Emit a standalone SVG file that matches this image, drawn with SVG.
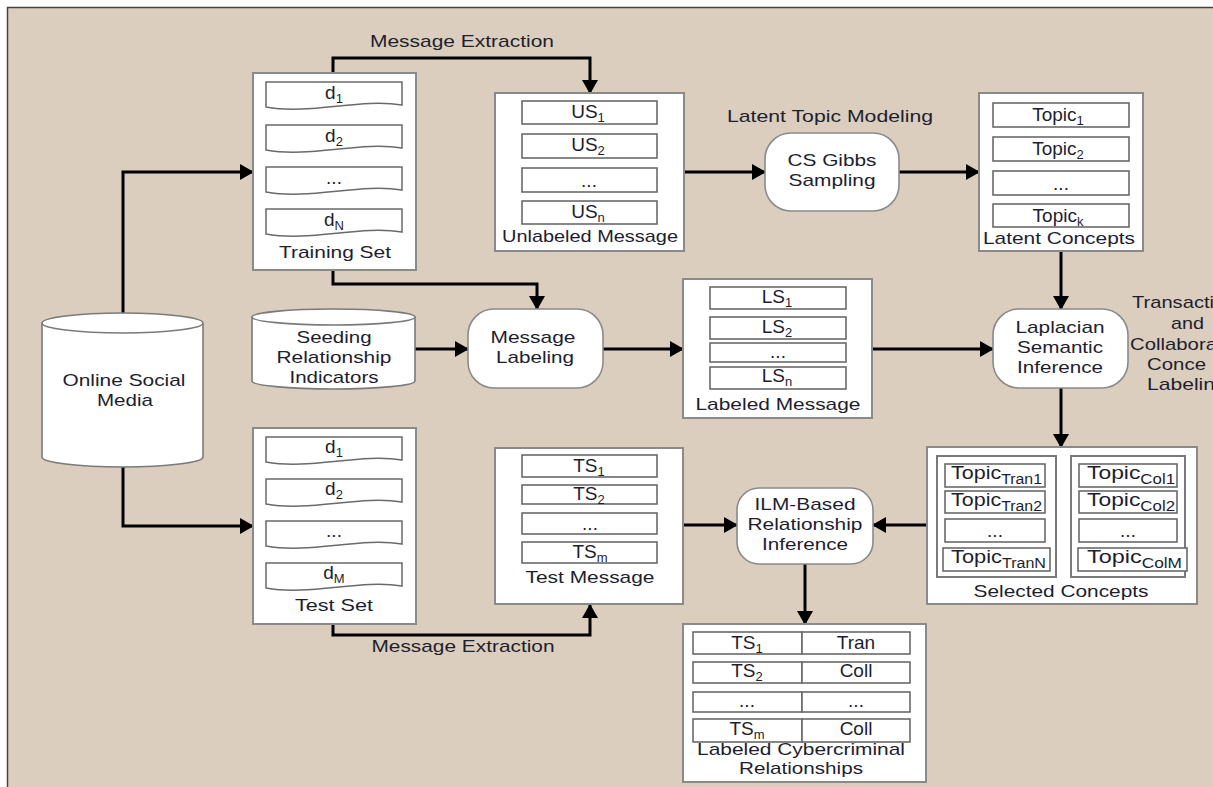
<svg xmlns="http://www.w3.org/2000/svg" xmlns:xlink="http://www.w3.org/1999/xlink" width="1213" height="787" viewBox="0 0 1213 787">
<style>
  text { font-family: "Liberation Sans", Arial, sans-serif; fill: #1e1e2e; font-size: 17px; text-anchor: middle; }
  .item { font-size: 19px; }
  .sub { font-size: 13px; }
  .sub2 { font-size: 14px; }
  .start { text-anchor: start; }
  .box { fill: #ffffff; stroke: #8a8a8a; stroke-width: 2; }
  .cell { fill: #ffffff; stroke: #6a6a6a; stroke-width: 1.6; }
  .round { fill: #ffffff; stroke: #8a8a8a; stroke-width: 1.6; }
  .doc { fill: #ffffff; stroke: #6a6a6a; stroke-width: 1.5; }
  .conn { fill: none; stroke: #000000; stroke-width: 3; }
</style>
<defs>
  <marker id="arr" markerUnits="userSpaceOnUse" markerWidth="14" markerHeight="16" refX="13" refY="8" orient="auto">
    <path d="M0,0 L14,8 L0,16 Z" fill="#000000"/>
  </marker>
  <path id="docshape" d="M0,0 H136 V23 C94,16 44,33 0,25 Z"/>
</defs>

<g id="background">
  <rect x="0" y="0" width="1213" height="787" fill="#ffffff"/>
  <rect x="7" y="7" width="1206" height="780" fill="#dbcebe"/>
  <path d="M7.5,787 V7.5 H1213" fill="none" stroke="#444444" stroke-width="1.5"/>
</g>

<g id="connectors">
  <path class="conn" d="M123,323 V172 H253" marker-end="url(#arr)"/>
  <path class="conn" d="M123,467 V526 H253" marker-end="url(#arr)"/>
  <path class="conn" d="M333,73 V58 H590 V93" marker-end="url(#arr)"/>
  <path class="conn" d="M333,270 V284 H537 V309" marker-end="url(#arr)"/>
  <path class="conn" d="M415,349 H468" marker-end="url(#arr)"/>
  <path class="conn" d="M603,349 H683" marker-end="url(#arr)"/>
  <path class="conn" d="M684,172 H765" marker-end="url(#arr)"/>
  <path class="conn" d="M899,172 H979" marker-end="url(#arr)"/>
  <path class="conn" d="M1061,251 V309" marker-end="url(#arr)"/>
  <path class="conn" d="M872,349 H993" marker-end="url(#arr)"/>
  <path class="conn" d="M1061,388 V447" marker-end="url(#arr)"/>
  <path class="conn" d="M927,525 H873" marker-end="url(#arr)"/>
  <path class="conn" d="M683,525 H737" marker-end="url(#arr)"/>
  <path class="conn" d="M805,564 V624" marker-end="url(#arr)"/>
  <path class="conn" d="M333,624 V635 H590 V605" marker-end="url(#arr)"/>
  <text x="462" y="47" textLength="184" lengthAdjust="spacingAndGlyphs">Message Extraction</text>
  <text x="463" y="652" textLength="183" lengthAdjust="spacingAndGlyphs">Message Extraction</text>
  <text x="830" y="122" textLength="206" lengthAdjust="spacingAndGlyphs">Latent Topic Modeling</text>
</g>

<g id="node-online-social-media">
  <path d="M42,323 V457 A80.5,10 0 0 0 203,457 V323" fill="#ffffff" stroke="#7a7a7a" stroke-width="1.6"/>
  <ellipse cx="122.5" cy="323" rx="80.5" ry="10" fill="#ffffff" stroke="#7a7a7a" stroke-width="1.6"/>
  <text x="124" y="386" textLength="123" lengthAdjust="spacingAndGlyphs">Online Social</text>
  <text x="125" y="406" textLength="56" lengthAdjust="spacingAndGlyphs">Media</text>
</g>

<g id="node-training-set">
  <rect class="box" x="253" y="73" width="163" height="197"/>
  <use href="#docshape" class="doc" x="266" y="82"/>
  <use href="#docshape" class="doc" x="266" y="125"/>
  <use href="#docshape" class="doc" x="266" y="167"/>
  <use href="#docshape" class="doc" x="266" y="209"/>
  <text class="item" x="334" y="99">d<tspan class="sub" dy="4">1</tspan></text>
  <text class="item" x="334" y="142">d<tspan class="sub" dy="4">2</tspan></text>
  <text class="item" x="334" y="184">...</text>
  <text class="item" x="334" y="226">d<tspan class="sub" dy="4">N</tspan></text>
  <text x="335" y="258" textLength="112" lengthAdjust="spacingAndGlyphs">Training Set</text>
</g>

<g id="node-unlabeled-message">
  <rect class="box" x="495" y="93" width="189" height="158"/>
  <rect class="cell" x="522" y="101" width="135" height="23"/>
  <rect class="cell" x="522" y="134" width="135" height="24"/>
  <rect class="cell" x="522" y="168" width="135" height="24"/>
  <rect class="cell" x="522" y="201" width="135" height="23"/>
  <text class="item" x="588" y="118">US<tspan class="sub" dy="4">1</tspan></text>
  <text class="item" x="588" y="151">US<tspan class="sub" dy="4">2</tspan></text>
  <text class="item" x="589" y="187">...</text>
  <text class="item" x="588" y="218">US<tspan class="sub" dy="4">n</tspan></text>
  <text x="590" y="242" textLength="176" lengthAdjust="spacingAndGlyphs">Unlabeled Message</text>
</g>

<g id="node-cs-gibbs-sampling">
  <rect class="round" x="765" y="133" width="134" height="78" rx="26" ry="26"/>
  <text x="832" y="166" textLength="89" lengthAdjust="spacingAndGlyphs">CS Gibbs</text>
  <text x="832" y="186" textLength="87" lengthAdjust="spacingAndGlyphs">Sampling</text>
</g>

<g id="node-latent-concepts">
  <rect class="box" x="979" y="93" width="164" height="158"/>
  <rect class="cell" x="993" y="103" width="136" height="24"/>
  <rect class="cell" x="993" y="137" width="136" height="24"/>
  <rect class="cell" x="993" y="171" width="136" height="24"/>
  <rect class="cell" x="993" y="204" width="136" height="23"/>
  <text class="item" x="1058" y="121">Topic<tspan class="sub" dy="4">1</tspan></text>
  <text class="item" x="1058" y="155">Topic<tspan class="sub" dy="4">2</tspan></text>
  <text class="item" x="1061" y="190">...</text>
  <text class="item" x="1058" y="222">Topic<tspan class="sub" dy="4">k</tspan></text>
  <text x="1059" y="244" textLength="152" lengthAdjust="spacingAndGlyphs">Latent Concepts</text>
</g>

<g id="node-seeding-relationship-indicators">
  <path d="M252,317 V381 A81.5,8 0 0 0 415,381 V317" fill="#ffffff" stroke="#7a7a7a" stroke-width="1.6"/>
  <ellipse cx="333.5" cy="317" rx="81.5" ry="8" fill="#ffffff" stroke="#7a7a7a" stroke-width="1.6"/>
  <text x="334" y="343" textLength="75" lengthAdjust="spacingAndGlyphs">Seeding</text>
  <text x="334" y="363" textLength="115" lengthAdjust="spacingAndGlyphs">Relationship</text>
  <text x="334" y="383" textLength="89" lengthAdjust="spacingAndGlyphs">Indicators</text>
</g>

<g id="node-message-labeling">
  <rect class="round" x="468" y="309" width="135" height="79" rx="26" ry="26"/>
  <text x="533" y="343" textLength="85" lengthAdjust="spacingAndGlyphs">Message</text>
  <text x="535" y="363" textLength="78" lengthAdjust="spacingAndGlyphs">Labeling</text>
</g>

<g id="node-labeled-message">
  <rect class="box" x="683" y="279" width="189" height="139"/>
  <rect class="cell" x="710" y="287" width="136" height="22"/>
  <rect class="cell" x="710" y="317" width="136" height="22"/>
  <rect class="cell" x="710" y="343" width="136" height="19"/>
  <rect class="cell" x="710" y="367" width="136" height="22"/>
  <text class="item" x="777" y="303">LS<tspan class="sub" dy="4">1</tspan></text>
  <text class="item" x="777" y="333">LS<tspan class="sub" dy="4">2</tspan></text>
  <text class="item" x="778" y="358">...</text>
  <text class="item" x="777" y="382">LS<tspan class="sub" dy="4">n</tspan></text>
  <text x="778" y="410" textLength="165" lengthAdjust="spacingAndGlyphs">Labeled Message</text>
</g>

<g id="node-laplacian-semantic-inference">
  <rect class="round" x="993" y="309" width="135" height="79" rx="26" ry="26"/>
  <text x="1060" y="333" textLength="89" lengthAdjust="spacingAndGlyphs">Laplacian</text>
  <text x="1060" y="353" textLength="86" lengthAdjust="spacingAndGlyphs">Semantic</text>
  <text x="1060" y="373" textLength="86" lengthAdjust="spacingAndGlyphs">Inference</text>
</g>

<g id="label-concept-labeling">
  <text class="start" x="1132" y="308" textLength="82" lengthAdjust="spacingAndGlyphs">Transacti</text>
  <text class="start" x="1171" y="329" textLength="33" lengthAdjust="spacingAndGlyphs">and</text>
  <text class="start" x="1130" y="350" textLength="87" lengthAdjust="spacingAndGlyphs">Collabora</text>
  <text class="start" x="1147" y="370" textLength="59" lengthAdjust="spacingAndGlyphs">Conce</text>
  <text class="start" x="1147" y="390" textLength="68" lengthAdjust="spacingAndGlyphs">Labelin</text>
</g>

<g id="node-test-set">
  <rect class="box" x="253" y="428" width="163" height="196"/>
  <use href="#docshape" class="doc" x="266" y="437"/>
  <use href="#docshape" class="doc" x="266" y="479"/>
  <use href="#docshape" class="doc" x="266" y="521"/>
  <use href="#docshape" class="doc" x="266" y="563"/>
  <text class="item" x="334" y="453">d<tspan class="sub" dy="4">1</tspan></text>
  <text class="item" x="334" y="495">d<tspan class="sub" dy="4">2</tspan></text>
  <text class="item" x="334" y="537">...</text>
  <text class="item" x="334" y="579">d<tspan class="sub" dy="4">M</tspan></text>
  <text x="334" y="611" textLength="78" lengthAdjust="spacingAndGlyphs">Test Set</text>
</g>

<g id="node-test-message">
  <rect class="box" x="495" y="448" width="188" height="156"/>
  <rect class="cell" x="522" y="455" width="135" height="22"/>
  <rect class="cell" x="522" y="485" width="135" height="19"/>
  <rect class="cell" x="522" y="513" width="135" height="21"/>
  <rect class="cell" x="522" y="542" width="135" height="21"/>
  <text class="item" x="589" y="472">TS<tspan class="sub" dy="4">1</tspan></text>
  <text class="item" x="589" y="500">TS<tspan class="sub" dy="4">2</tspan></text>
  <text class="item" x="590" y="530">...</text>
  <text class="item" x="590" y="558">TS<tspan class="sub" dy="4">m</tspan></text>
  <text x="590" y="583" textLength="129" lengthAdjust="spacingAndGlyphs">Test Message</text>
</g>

<g id="node-ilm-based-relationship-inference">
  <rect class="round" x="737" y="488" width="136" height="76" rx="22" ry="22"/>
  <text x="805" y="510" textLength="101" lengthAdjust="spacingAndGlyphs">ILM-Based</text>
  <text x="805" y="530" textLength="115" lengthAdjust="spacingAndGlyphs">Relationship</text>
  <text x="805" y="550" textLength="86" lengthAdjust="spacingAndGlyphs">Inference</text>
</g>

<g id="node-selected-concepts">
  <rect class="box" x="927" y="447" width="270" height="157"/>
  <rect x="937" y="456" width="119" height="121" fill="#ffffff" stroke="#7a7a7a" stroke-width="2"/>
  <rect x="1071" y="456" width="114" height="121" fill="#ffffff" stroke="#7a7a7a" stroke-width="2"/>
  <rect class="cell" x="945" y="464" width="100" height="23"/>
  <rect class="cell" x="945" y="491" width="100" height="22"/>
  <rect class="cell" x="945" y="519" width="100" height="23"/>
  <rect class="cell" x="943" y="548" width="107" height="23"/>
  <rect class="cell" x="1079" y="464" width="98" height="23"/>
  <rect class="cell" x="1079" y="491" width="98" height="22"/>
  <rect class="cell" x="1079" y="519" width="98" height="23"/>
  <rect class="cell" x="1078" y="548" width="109" height="23"/>
  <text class="item start" x="951" y="479" textLength="91" lengthAdjust="spacingAndGlyphs">Topic<tspan class="sub2" dy="5">Tran1</tspan></text>
  <text class="item start" x="951" y="506" textLength="91" lengthAdjust="spacingAndGlyphs">Topic<tspan class="sub2" dy="5">Tran2</tspan></text>
  <text class="item" x="995" y="537">...</text>
  <text class="item start" x="951" y="563" textLength="95" lengthAdjust="spacingAndGlyphs">Topic<tspan class="sub2" dy="5">TranN</tspan></text>
  <text class="item start" x="1087" y="479" textLength="88" lengthAdjust="spacingAndGlyphs">Topic<tspan class="sub2" dy="5">Col1</tspan></text>
  <text class="item start" x="1087" y="506" textLength="88" lengthAdjust="spacingAndGlyphs">Topic<tspan class="sub2" dy="5">Col2</tspan></text>
  <text class="item" x="1128" y="537">...</text>
  <text class="item start" x="1087" y="563" textLength="95" lengthAdjust="spacingAndGlyphs">Topic<tspan class="sub2" dy="5">ColM</tspan></text>
  <text x="1061" y="597" textLength="175" lengthAdjust="spacingAndGlyphs">Selected Concepts</text>
</g>

<g id="node-labeled-cybercriminal-relationships">
  <rect class="box" x="683" y="624" width="243" height="158"/>
  <rect class="cell" x="693" y="632" width="109" height="22"/>
  <rect class="cell" x="802" y="632" width="108" height="22"/>
  <rect class="cell" x="693" y="662" width="109" height="21"/>
  <rect class="cell" x="802" y="662" width="108" height="21"/>
  <rect class="cell" x="693" y="692" width="109" height="20"/>
  <rect class="cell" x="802" y="692" width="108" height="20"/>
  <rect class="cell" x="693" y="719" width="109" height="23"/>
  <rect class="cell" x="802" y="719" width="108" height="23"/>
  <text class="item" x="747" y="649">TS<tspan class="sub" dy="4">1</tspan></text>
  <text class="item" x="856" y="649">Tran</text>
  <text class="item" x="747" y="677">TS<tspan class="sub" dy="4">2</tspan></text>
  <text class="item" x="856" y="677">Coll</text>
  <text class="item" x="747" y="707">...</text>
  <text class="item" x="856" y="707">...</text>
  <text class="item" x="747" y="735">TS<tspan class="sub" dy="4">m</tspan></text>
  <text class="item" x="856" y="735">Coll</text>
  <text x="801" y="755" textLength="208" lengthAdjust="spacingAndGlyphs">Labeled Cybercriminal</text>
  <text x="801" y="774" textLength="124" lengthAdjust="spacingAndGlyphs">Relationships</text>
</g>
</svg>
